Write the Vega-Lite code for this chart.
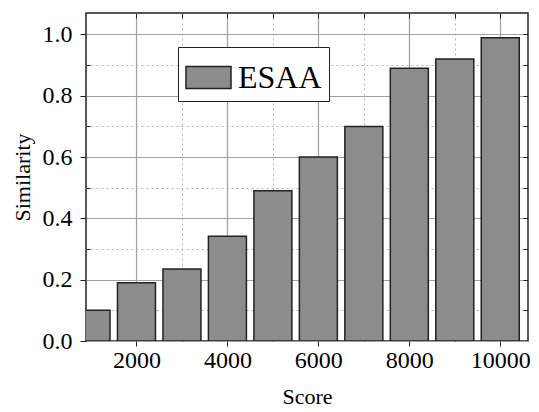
{
  "$schema": "https://vega.github.io/schema/vega-lite/v6.json",
  "width": 442,
  "height": 328,
  "autosize": "none",
  "padding": {"left": 86, "top": 13, "right": 11, "bottom": 71},
  "background": "white",
  "config": {
    "view": {"stroke": "#222", "strokeWidth": 1.5},
    "font": "Liberation Serif"
  },
  "data": {
    "values": [
      {"score": 1000, "similarity": 0.10, "method": "ESAA"},
      {"score": 2000, "similarity": 0.19, "method": "ESAA"},
      {"score": 3000, "similarity": 0.235, "method": "ESAA"},
      {"score": 4000, "similarity": 0.342, "method": "ESAA"},
      {"score": 5000, "similarity": 0.49, "method": "ESAA"},
      {"score": 6000, "similarity": 0.60, "method": "ESAA"},
      {"score": 7000, "similarity": 0.70, "method": "ESAA"},
      {"score": 8000, "similarity": 0.89, "method": "ESAA"},
      {"score": 9000, "similarity": 0.92, "method": "ESAA"},
      {"score": 10000, "similarity": 0.989, "method": "ESAA"}
    ]
  },
  "resolve": {"axis": {"x": "independent", "y": "independent"}},
  "layer": [
    {
      "mark": {"type": "point", "opacity": 0},
      "encoding": {
        "x": {"field": "score", "type": "quantitative", "scale": {"domain": [1000, 10500], "nice": false, "zero": false},
          "axis": {"values": [3000, 5000, 7000, 9000], "grid": true, "gridDash": [2, 3], "gridColor": "#b5b5b5", "labels": false, "domain": false, "tickSize": -4, "tickColor": "#222", "title": null}},
        "y": {"field": "similarity", "type": "quantitative", "scale": {"domain": [0, 1.07], "nice": false},
          "axis": {"values": [0.1, 0.3, 0.5, 0.7, 0.9], "grid": true, "gridDash": [2, 3], "gridColor": "#b5b5b5", "labels": false, "domain": false, "tickSize": -4, "tickColor": "#222", "title": null}}
      }
    },
    {
      "mark": {"type": "point", "opacity": 0},
      "encoding": {
        "x": {"field": "score", "type": "quantitative",
          "axis": {"orient": "top", "values": [2000, 3000, 4000, 5000, 6000, 7000, 8000, 9000, 10000], "grid": false, "labels": false, "domain": false, "tickSize": -5, "tickColor": "#222", "title": null}},
        "y": {"field": "similarity", "type": "quantitative",
          "axis": {"orient": "right", "values": [0.1, 0.2, 0.3, 0.4, 0.5, 0.6, 0.7, 0.8, 0.9, 1.0], "grid": false, "labels": false, "domain": false, "tickSize": -5, "tickColor": "#222", "title": null}}
      }
    },
    {
      "mark": {"type": "bar", "size": 38, "clip": true, "stroke": "#222", "strokeWidth": 1.5},
      "encoding": {
        "x": {"field": "score", "type": "quantitative",
          "axis": {"values": [2000, 4000, 6000, 8000, 10000], "format": "d", "grid": true, "gridColor": "#a0a0a0", "gridWidth": 1.2, "labelFont": "Liberation Serif", "labelColor": "black", "labelFontSize": 24, "labelPadding": 2, "tickSize": 5, "tickColor": "#222", "domain": false, "title": "Score", "titleFont": "Liberation Serif", "titleColor": "black", "titleFontWeight": "normal", "titleFontSize": 22, "titlePadding": 14}},
        "y": {"field": "similarity", "type": "quantitative",
          "axis": {"values": [0, 0.2, 0.4, 0.6, 0.8, 1.0], "format": ".1f", "grid": true, "gridColor": "#a0a0a0", "gridWidth": 1.2, "labelFont": "Liberation Serif", "labelColor": "black", "labelFontSize": 24, "labelPadding": 8, "tickSize": 6, "tickColor": "#222", "domain": false, "title": "Similarity", "titleFont": "Liberation Serif", "titleColor": "black", "titleFontWeight": "normal", "titleFontSize": 22, "titlePadding": 8}},
        "color": {"field": "method", "type": "nominal", "scale": {"range": ["#8c8c8c"]},
          "legend": {"title": null, "orient": "none", "legendX": 92, "legendY": 34, "strokeColor": "#222", "fillColor": "white", "padding": 7,
            "symbolType": "M-1,-0.49H1V0.49H-1Z", "symbolSize": 2025, "symbolStrokeColor": "#222", "symbolStrokeWidth": 1.5, "symbolOpacity": 1,
            "labelFontSize": 32, "labelFont": "Liberation Serif", "labelColor": "black", "labelOffset": 6}}
      }
    }
  ]
}
